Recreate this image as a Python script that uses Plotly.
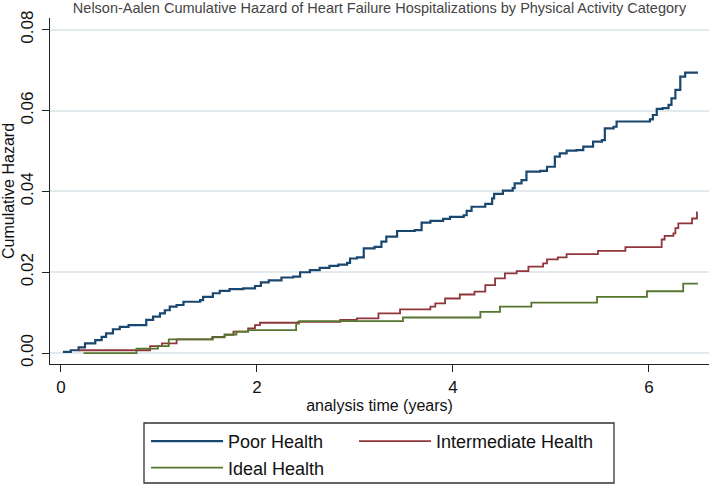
import plotly.graph_objects as go

# ---- data ----
poor_t = [0.02, 0.10, 0.18, 0.245, 0.35, 0.415, 0.46, 0.53, 0.60, 0.69, 0.87, 0.94, 1.01, 1.06,
          1.11, 1.18, 1.25, 1.42, 1.45, 1.55, 1.62, 1.72, 1.86, 1.98, 2.04, 2.12, 2.25, 2.37,
          2.44, 2.54, 2.64, 2.74, 2.83, 2.92, 2.95, 3.02, 3.09, 3.20, 3.27, 3.32, 3.43, 3.61,
          3.68, 3.77, 3.90, 3.97, 4.11, 4.14, 4.19, 4.33, 4.40, 4.42, 4.51, 4.61, 4.63, 4.70,
          4.75, 4.89, 4.96, 5.04, 5.09, 5.16, 5.26, 5.33, 5.43, 5.52, 5.55, 5.64, 5.67, 6.01,
          6.04, 6.08, 6.14, 6.20, 6.23, 6.27, 6.32, 6.37, 6.50]
poor_h = [0.0003, 0.0007, 0.0014, 0.0024, 0.0032, 0.0040, 0.0049, 0.0059, 0.0065, 0.0069, 0.0082,
          0.0090, 0.0098, 0.0106, 0.0115, 0.0119, 0.0127, 0.0131, 0.0139, 0.0148, 0.0154, 0.0158,
          0.0160, 0.0166, 0.0175, 0.0180, 0.0187, 0.0189, 0.0200, 0.0205, 0.0211, 0.0216, 0.0219,
          0.0223, 0.0234, 0.0237, 0.0259, 0.0263, 0.0276, 0.0288, 0.0302, 0.0304, 0.0323, 0.0327,
          0.0332, 0.0337, 0.0341, 0.0352, 0.0362, 0.0369, 0.0383, 0.0394, 0.0402, 0.0408, 0.0420,
          0.0428, 0.0449, 0.0451, 0.0461, 0.0486, 0.0494, 0.0501, 0.0502, 0.0511, 0.0523, 0.0527,
          0.0556, 0.0560, 0.0573, 0.0578, 0.0589, 0.0604, 0.0606, 0.0614, 0.0630, 0.0651, 0.0684,
          0.0694, 0.0694]

inter_t = [0.18, 0.91, 1.03, 1.18, 1.55, 1.67, 1.76, 1.91, 1.98, 2.03, 2.42, 2.85, 3.02, 3.24,
           3.46, 3.77, 3.82, 3.92, 4.07, 4.22, 4.33, 4.43, 4.53, 4.65, 4.77, 4.92, 4.96, 5.07,
           5.16, 5.48, 5.76, 6.13, 6.16, 6.25, 6.27, 6.30, 6.44, 6.49]
inter_h = [0.0007, 0.0017, 0.0024, 0.0034, 0.0040, 0.0045, 0.0053, 0.0061, 0.0069, 0.0075,
           0.0077, 0.0082, 0.0086, 0.0098, 0.0108, 0.0115, 0.0123, 0.0135, 0.0145, 0.0152,
           0.0168, 0.0185, 0.0197, 0.0203, 0.0214, 0.0222, 0.0232, 0.0237, 0.0245, 0.0253,
           0.0262, 0.0281, 0.0290, 0.0296, 0.0309, 0.0321, 0.0333, 0.0350]

ideal_t = [0.23, 0.77, 0.99, 1.10, 1.54, 1.67, 1.79, 1.91, 2.40, 2.43, 3.49, 4.28, 4.48, 4.80,
           5.47, 5.98, 6.35, 6.50]
ideal_h = [0.0000, 0.0011, 0.0017, 0.0034, 0.0039, 0.0046, 0.0053, 0.0057, 0.0073, 0.0079,
           0.0088, 0.0102, 0.0115, 0.0125, 0.0139, 0.0153, 0.0172, 0.0172]

series_names = ["Poor Health", "Intermediate Health", "Ideal Health"]
x_ticks = [0, 2, 4, 6]
y_ticks = [0.00, 0.02, 0.04, 0.06, 0.08]

title_text = "Nelson-Aalen Cumulative Hazard of Heart Failure Hospitalizations by Physical Activity Category"
x_title = "analysis time (years)"
y_title = "Cumulative Hazard"

colors = ["#1a476f", "#90353b", "#55752f"]
FONT = "Arial, Liberation Sans, sans-serif"

# legend column for each series: left column (legend) holds Poor and Ideal, right (legend2) Intermediate
legend_cols = ["legend", "legend2", "legend"]

fig = go.Figure()
for name, t, h, c, w, lg in zip(series_names, [poor_t, inter_t, ideal_t],
                                [poor_h, inter_h, ideal_h], colors, [2.2, 1.8, 1.8],
                                legend_cols):
    fig.add_trace(go.Scatter(x=t, y=h, mode="lines", name=name, legend=lg,
                             line=dict(color=c, width=w, shape="hv")))

W, H = 709, 485
L, R, T, B = 50, 0, 18, 121
pw, ph = W - L - R, H - T - B

def px2paper_x(px):
    return (px - L) / pw

def px2paper_y(py):
    return (H - B - py) / ph

legend_common = dict(orientation="v", xanchor="left", yanchor="top",
                     y=px2paper_y(423), font=dict(size=18),
                     bgcolor="rgba(0,0,0,0)", borderwidth=0,
                     itemwidth=72, tracegroupgap=0)

fig.update_layout(
    width=W, height=H,
    margin=dict(l=L, r=R, t=T, b=B, pad=0, autoexpand=False),
    paper_bgcolor="white", plot_bgcolor="white",
    font=dict(family=FONT, color="#111", size=17),
    title=dict(text=title_text, x=0.5, xref="paper", xanchor="center",
               y=1 - 8 / H, yref="container", yanchor="middle",
               font=dict(size=14.5, color="#444", family=FONT)),
    xaxis=dict(range=[-0.112, 6.613], tickvals=x_ticks, ticks="outside", ticklen=7,
               tickwidth=1.3, tickcolor="#222", showline=True, linecolor="#222",
               linewidth=1.3, showgrid=False, zeroline=False, automargin=False,
               tickfont=dict(size=17), ticklabelstandoff=0,
               title=dict(text=x_title, font=dict(size=16), standoff=4)),
    yaxis=dict(range=[-0.0027, 0.0829], tickvals=y_ticks, tickformat=".2f",
               tickangle=-90, ticks="outside", ticklen=7, tickwidth=1.3,
               tickcolor="#222", showline=True, linecolor="#222", linewidth=1.3,
               showgrid=True, gridcolor="#e2eaee", gridwidth=1.5, zeroline=False,
               automargin=False, tickfont=dict(size=17), ticklabelstandoff=2,
               title=dict(text=y_title, font=dict(size=16), standoff=1)),
    legend=dict(x=px2paper_x(146), **legend_common),
    legend2=dict(x=px2paper_x(354), **legend_common),
    showlegend=True,
)

fig.add_shape(type="rect", xref="paper", yref="paper",
              x0=px2paper_x(144), x1=px2paper_x(614),
              y0=px2paper_y(423), y1=px2paper_y(483),
              line=dict(color="#333", width=1.3), fillcolor="rgba(0,0,0,0)")

fig.write_html("out.html", config={"displayModeBar": False},
               post_script="document.body.style.margin='0';")
